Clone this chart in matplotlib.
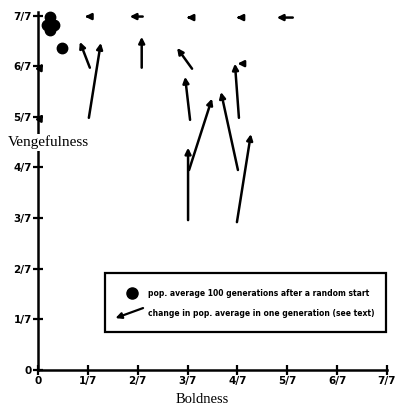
import numpy as np
import matplotlib.pyplot as plt

# all values in units of 1/7
tick_labels = ['0', '1/7', '2/7', '3/7', '4/7', '5/7', '6/7', '7/7']

# population averages after 100 generations (boldness, vengefulness)
avg_bold = [0.24, 0.18, 0.32, 0.24, 0.48]
avg_veng = [6.98, 6.82, 6.82, 6.72, 6.36]

# change in one generation: tail -> head
tail_bold = [1.04, 1.02, 2.08, 3.09, 3.05, 3.01, 3.03, 4.01, 3.99, 4.03, 4.12,
             1.04, 2.10, 3.05, 4.05, 5.11, 0.04, 0.04]
tail_veng = [5.97, 4.98, 5.97, 5.95, 4.94, 2.96, 3.95, 3.95, 2.92, 4.98, 6.05,
             6.98, 6.98, 6.96, 6.96, 6.96, 5.95, 4.95]
head_bold = [0.84, 1.26, 2.08, 2.79, 2.95, 3.01, 3.49, 3.67, 4.27, 3.95, 4.00,
             0.94, 1.84, 2.98, 3.98, 4.79, 0.10, 0.10]
head_veng = [6.48, 6.46, 6.58, 6.36, 5.79, 4.39, 5.36, 5.49, 4.66, 6.05, 6.05,
             6.98, 6.98, 6.96, 6.96, 6.96, 6.06, 5.06]

fig = plt.figure(figsize=(3.96, 4.08), dpi=100)
ax = fig.add_axes([38 / 396, 38 / 408, 349 / 396, 358 / 408])

ax.set_xlim(0, 1)
ax.set_ylim(0, 1.01)

# arrows
for xb, yb, xh, yh in zip(tail_bold, tail_veng, head_bold, head_veng):
    ax.annotate('', xy=(xh / 7, yh / 7), xytext=(xb / 7, yb / 7),
                arrowprops=dict(arrowstyle='-|>,head_length=0.5,head_width=0.25',
                                lw=1.8, color='k', shrinkA=0, shrinkB=0,
                                mutation_scale=7),
                annotation_clip=False)

# population averages
ax.plot(np.array(avg_bold) / 7, np.array(avg_veng) / 7, 'o', color='k',
        ms=7.5, clip_on=False, zorder=4)

# axes styling
for s in ['top', 'right']:
    ax.spines[s].set_visible(False)
for s in ['left', 'bottom']:
    ax.spines[s].set_linewidth(1.8)
ticks = np.arange(8) / 7
ax.set_xticks(ticks)
ax.set_yticks(ticks)
ax.set_xticklabels(tick_labels, fontsize=7.5, fontweight='bold')
ax.set_yticklabels(tick_labels, fontsize=7.5, fontweight='bold')
ax.tick_params(direction='inout', length=7, width=1.6, pad=1)

# axis titles
ax.text(0.03, 4.45 / 7, 'Vengefulness', family='Liberation Serif', fontsize=11,
        ha='center', va='center', transform=ax.transAxes, clip_on=False,
        bbox=dict(fc='white', ec='none', pad=1), zorder=5)
fig.text(202 / 396, 0.02, 'Boldness', family='Liberation Serif', fontsize=10.5,
         ha='center', va='center')

# legend box
box = plt.Rectangle((0.192, 0.106), 0.806, 0.165, transform=ax.transAxes,
                    fill=False, lw=1.6, color='k', clip_on=False)
ax.add_patch(box)
ax.plot([0.269], [0.215], 'o', color='k', ms=8, transform=ax.transAxes,
        clip_on=False)
ax.annotate('', xy=(0.222, 0.145), xytext=(0.301, 0.173),
            xycoords='axes fraction',
            arrowprops=dict(arrowstyle='-|>,head_length=0.5,head_width=0.25',
                            lw=1.6, color='k', shrinkA=0, shrinkB=0,
                            mutation_scale=7))
ax.text(0.315, 0.215, 'pop. average 100 generations after a random start',
        fontsize=5.5, fontweight='bold', va='center', transform=ax.transAxes)
ax.text(0.315, 0.158, 'change in pop. average in one generation (see text)',
        fontsize=5.5, fontweight='bold', va='center', transform=ax.transAxes)

fig.savefig('out.png', dpi=100)
